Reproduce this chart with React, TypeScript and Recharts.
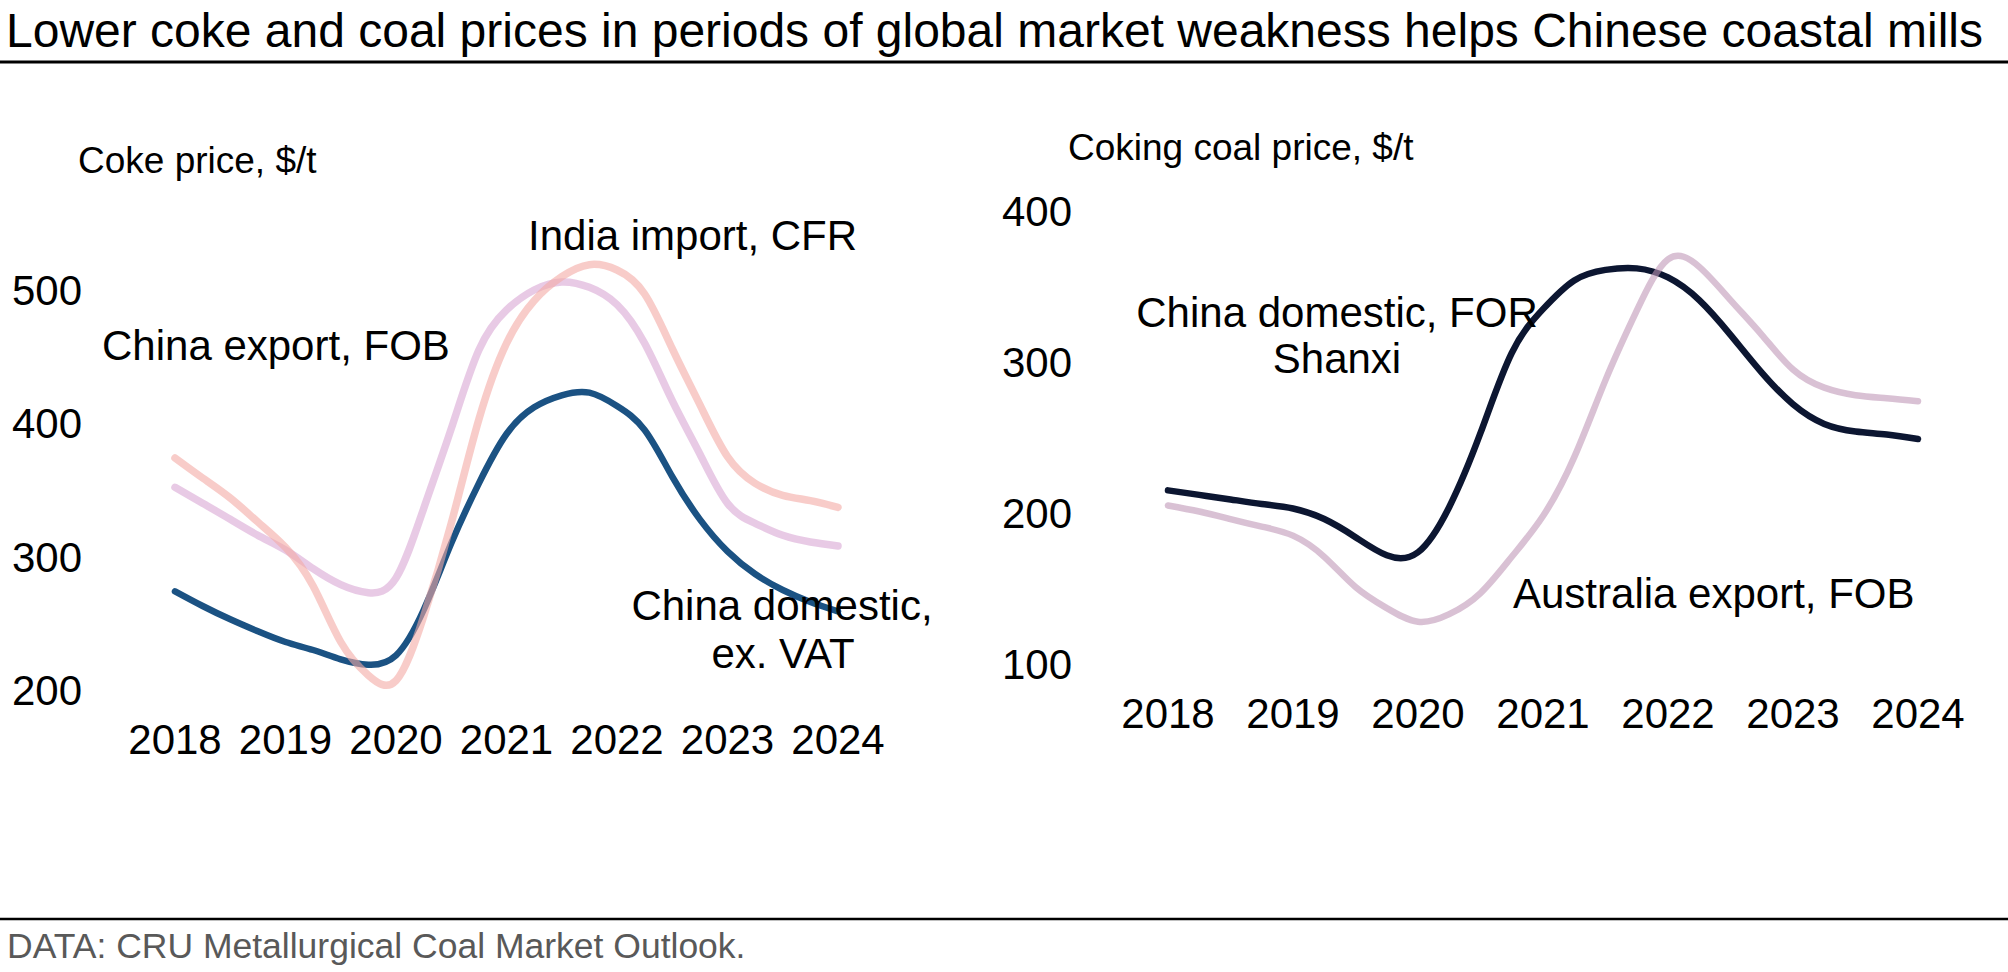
import React from 'react';
import { LineChart, Line, XAxis, YAxis } from 'recharts';

const FONT = '"Liberation Sans", Arial, Helvetica, sans-serif';

// Quarterly x positions (years)
const QUARTERS = [
  2018, 2018.25, 2018.5, 2018.75,
  2019, 2019.25, 2019.5, 2019.75,
  2020, 2020.25, 2020.5, 2020.75,
  2021, 2021.25, 2021.5, 2021.75,
  2022, 2022.25, 2022.5, 2022.75,
  2023, 2023.25, 2023.5, 2023.75,
  2024,
];
const YEAR_TICKS = [2018, 2019, 2020, 2021, 2022, 2023, 2024];
const COKE_TICKS = [200, 300, 400, 500];
const COAL_TICKS = [100, 200, 300, 400];

// Coke price, $/t
const cokeChinaDomestic = [274, 263, 253, 244, 236, 230, 223, 219, 226, 260, 310, 355, 392, 412, 421, 423, 413, 395, 360, 328, 304, 287, 275, 266, 259];
const cokeIndiaImport = [374, 359, 344, 326, 307, 278, 236, 211, 207, 255, 325, 403, 460, 492, 510, 519, 515, 497, 456, 414, 375, 355, 346, 342, 337];
const cokeChinaExport = [352, 340, 328, 316, 305, 291, 279, 273, 284, 336, 396, 455, 485, 500, 506, 502, 489, 460, 417, 377, 340, 325, 316, 311, 308];

// Coking coal price, $/t
const coalChinaDomestic = [215, 212, 209, 206, 203, 196, 184, 172, 174, 204, 253, 306, 335, 354, 361, 362, 356, 341, 318, 293, 272, 259, 254, 252, 249];
const coalAustraliaExport = [205, 201, 196, 191, 185, 171, 151, 137, 128, 133, 147, 171, 198, 237, 288, 334, 368, 363, 341, 318, 295, 283, 278, 276, 274];

const cokeData = QUARTERS.map((year, i) => ({
  year,
  domestic: cokeChinaDomestic[i],
  india: cokeIndiaImport[i],
  exportFob: cokeChinaExport[i],
}));

const coalData = QUARTERS.map((year, i) => ({
  year,
  domestic: coalChinaDomestic[i],
  australia: coalAustraliaExport[i],
}));

const tickStyle = { fontSize: 42, fill: '#000', fontFamily: FONT };

export default function App() {
  return (
    <div
      style={{
        position: 'absolute',
        left: 0,
        top: 0,
        width: 2008,
        height: 972,
        background: '#fff',
        overflow: 'hidden',
        fontFamily: FONT,
      }}
    >
      <div style={{ position: 'absolute', left: 0, top: 0 }}>
        <LineChart width={1000} height={800} data={cokeData} margin={{ top: 250, right: 162, bottom: 30, left: 0 }}>
          <XAxis
            dataKey="year"
            type="number"
            domain={[2018, 2024]}
            ticks={YEAR_TICKS}
            interval={0}
            axisLine={false}
            tickLine={false}
            tickSize={0}
            tickMargin={34}
            height={80}
            tick={tickStyle}
          />
          <YAxis
            type="number"
            domain={[200, 530]}
            ticks={COKE_TICKS}
            interval={0}
            axisLine={false}
            tickLine={false}
            tickSize={0}
            tickMargin={93}
            width={175}
            tick={tickStyle}
          />
          <Line dataKey="domestic" type="natural" stroke="#1b5283" strokeWidth={6.5} strokeLinecap="round" dot={false} activeDot={false} isAnimationActive={false} />
          <Line dataKey="exportFob" type="natural" stroke="#d9a6d3" strokeOpacity={0.6} strokeWidth={7.5} strokeLinecap="round" dot={false} activeDot={false} isAnimationActive={false} />
          <Line dataKey="india" type="natural" stroke="#f4aaa5" strokeOpacity={0.6} strokeWidth={7.5} strokeLinecap="round" dot={false} activeDot={false} isAnimationActive={false} />
        </LineChart>
      </div>

      <div style={{ position: 'absolute', left: 1000, top: 0 }}>
        <LineChart width={1008} height={800} data={coalData} margin={{ top: 211, right: 90, bottom: 56, left: 0 }}>
          <XAxis
            dataKey="year"
            type="number"
            domain={[2018, 2024]}
            ticks={YEAR_TICKS}
            interval={0}
            axisLine={false}
            tickLine={false}
            tickSize={0}
            tickMargin={34}
            height={80}
            tick={tickStyle}
          />
          <YAxis
            type="number"
            domain={[100, 400]}
            ticks={COAL_TICKS}
            interval={0}
            axisLine={false}
            tickLine={false}
            tickSize={0}
            tickMargin={96}
            width={168}
            tick={tickStyle}
          />
          <Line dataKey="domestic" type="natural" stroke="#0c1631" strokeWidth={6.5} strokeLinecap="round" dot={false} activeDot={false} isAnimationActive={false} />
          <Line dataKey="australia" type="natural" stroke="#bf97b8" strokeOpacity={0.6} strokeWidth={6.5} strokeLinecap="round" dot={false} activeDot={false} isAnimationActive={false} />
        </LineChart>
      </div>

      <svg
        width={2008}
        height={972}
        style={{ position: 'absolute', left: 0, top: 0, pointerEvents: 'none' }}
        fontFamily={FONT}
      >
        <text x={6} y={47} fontSize={48} fill="#000">
          Lower coke and coal prices in periods of global market weakness helps Chinese coastal mills
        </text>
        <line x1={0} y1={62} x2={2008} y2={62} stroke="#000" strokeWidth={3} />

        <text x={78} y={173} fontSize={37} fill="#000">Coke price, $/t</text>
        <text x={1068} y={160} fontSize={37} fill="#000">Coking coal price, $/t</text>

        <text x={102} y={360} fontSize={42} fill="#000">China export, FOB</text>
        <text x={528} y={250} fontSize={42} fill="#000">India import, CFR</text>
        <text x={782} y={620} fontSize={42} fill="#000" textAnchor="middle">China domestic,</text>
        <text x={783} y={668} fontSize={42} fill="#000" textAnchor="middle">ex. VAT</text>

        <text x={1337} y={327} fontSize={42} fill="#000" textAnchor="middle">China domestic, FOR</text>
        <text x={1337} y={373} fontSize={42} fill="#000" textAnchor="middle">Shanxi</text>
        <text x={1513} y={608} fontSize={42} fill="#000">Australia export, FOB</text>

        <line x1={0} y1={919} x2={2008} y2={919} stroke="#000" strokeWidth={2.5} />
        <text x={7} y={958} fontSize={35.5} fill="#595959">DATA: CRU Metallurgical Coal Market Outlook.</text>
      </svg>
    </div>
  );
}
